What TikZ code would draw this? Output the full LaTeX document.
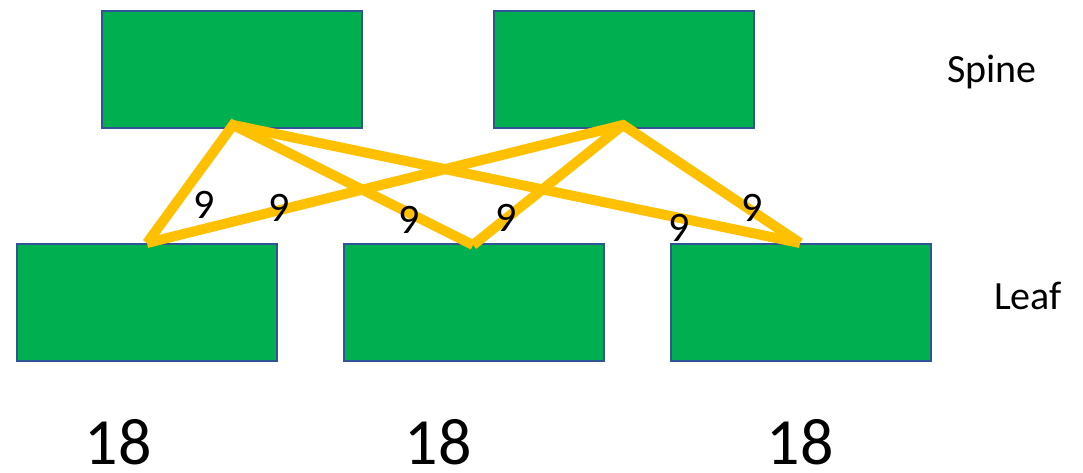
\documentclass[tikz,border=0pt]{standalone}
\usepackage{fontspec}
\setmainfont{Carlito}
\definecolor{boxgreen}{HTML}{00B050}
\definecolor{boxedge}{HTML}{2F5597}
\definecolor{linkyellow}{HTML}{FFC000}
\begin{document}
\begin{tikzpicture}[x=1pt,y=-1pt,
  switchbox/.style={draw=boxedge,line width=1.6pt,fill=boxgreen,minimum width=260pt,minimum height=117pt,inner sep=0pt,anchor=north west},
  link/.style={draw=linkyellow,line width=10pt,line cap=butt,line join=miter},
  lbl/.style={font=\fontsize{42}{46}\selectfont,inner sep=0pt},
  tier/.style={font=\fontsize{40}{44}\selectfont,inner sep=0pt},
  total/.style={font=\fontsize{66}{70}\selectfont,inner sep=0pt,text depth=0pt,anchor=base}]
\useasboundingbox (0,0) rectangle (1083,472);
\node[switchbox] (sp1) at (101,10) {};
\node[switchbox] (sp2) at (493,10) {};
\node[switchbox] (lf1) at (16,243) {};
\node[switchbox] (lf2) at (343,243) {};
\node[switchbox] (lf3) at (670,243) {};
\coordinate (a1) at (233,125);
\coordinate (a2) at (623,125);
\coordinate (b1) at (147,243);
\coordinate (b2) at (473,245);
\coordinate (b3) at (800,243);
\draw[link] (b1) -- (a1) -- (b2);
\draw[link] (a1) -- (b3);
\draw[link] (b1) -- (a2) -- (b3);
\draw[link] (b2) -- (a2);
\node[lbl] (n1) at (204,205) {9};
\node[lbl] (n2) at (279,208) {9};
\node[lbl] (n3) at (409,220) {9};
\node[lbl] (n4) at (506,218) {9};
\node[lbl] (n5) at (679,228) {9};
\node[lbl] (n6) at (752,208) {9};
\node[tier] (spine) at (992,72) {Spine};
\node[tier] (leaf) at (1028,296) {Leaf};
\node[total] (t1) at (118,464) {18};
\node[total] (t2) at (438,464) {18};
\node[total] (t3) at (800,464) {18};
\end{tikzpicture}
\end{document}
